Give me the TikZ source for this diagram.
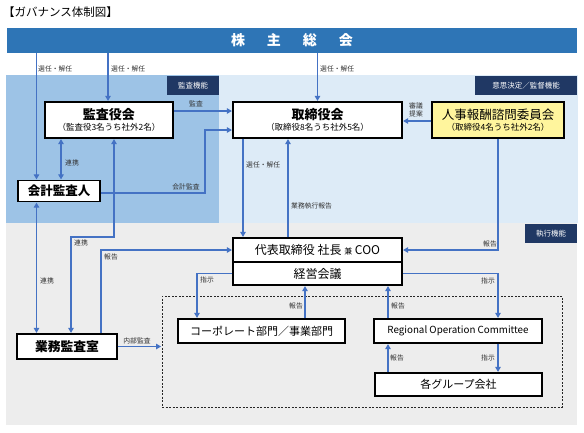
\documentclass[tikz,border=0pt]{standalone}
\usepackage{fontspec}
\setmainfont{Noto Sans CJK JP}
\usetikzlibrary{arrows.meta}
\definecolor{barblue}{RGB}{46,117,182}
\definecolor{lightblue}{RGB}{221,235,247}
\definecolor{auditblue}{RGB}{157,195,230}
\definecolor{graybg}{RGB}{237,237,237}
\definecolor{navy}{RGB}{32,56,100}
\definecolor{arrowblue}{RGB}{68,114,196}
\definecolor{paleyellow}{RGB}{255,245,157}
\begin{document}
\begin{tikzpicture}[x=1pt,y=-1pt,
  box/.style={draw=black, line width=1.2pt, fill=white, inner sep=0pt, align=center},
  tag/.style={fill=navy, text=white, inner sep=0pt, font=\fontsize{7.5}{8.5}\selectfont},
  lbl/.style={inner sep=0pt, text=black!80, font=\fontsize{6.8}{7.8}\selectfont},
  arr/.style={draw=arrowblue, line width=1.1pt, -{Triangle[width=5.5pt,length=5pt]}, shorten >=0.5pt},
  arrtwo/.style={draw=arrowblue, line width=1.1pt, {Triangle[width=5.5pt,length=5pt]}-{Triangle[width=5.5pt,length=5pt]}, shorten >=0.5pt, shorten <=0.5pt}
]
\useasboundingbox (0,0) rectangle (584,432);
\fill[white] (0,0) rectangle (584,432);
% regions
\fill[lightblue] (6,75) rectangle (578,223);
\fill[auditblue] (6,75) rectangle (219,223);
\fill[graybg] (6,223) rectangle (577,425);
% tags
\node[tag, minimum width=52pt, minimum height=19pt] (tagA) at (193,85.5) {監査機能};
\node[tag, minimum width=102pt, minimum height=19pt] (tagB) at (526,85.5) {意思決定／監督機能};
\node[tag, minimum width=52pt, minimum height=19pt] (tagC) at (551,233.5) {執行機能};
% title
\node[anchor=west, inner sep=0pt, font=\fontsize{11.5}{13}\selectfont] (title) at (3,12) {【ガバナンス体制図】};
% top bar
\node[fill=barblue, text=white, minimum width=570pt, minimum height=25pt, inner sep=0pt,
      font=\fontsize{14}{16}\selectfont\bfseries] (bar) at (292,40.5)
      {株\hspace{22pt}主\hspace{22pt}総\hspace{22pt}会};
% dashed group
\node[draw=black!85, line width=0.9pt, dash pattern=on 2pt off 1.5pt, minimum width=400pt, minimum height=111pt, inner sep=0pt] (grp) at (362,351.5) {};
% boxes
\node[box, minimum width=128pt, minimum height=36pt] (kansayaku) at (109,120)
  {{\fontsize{13}{14}\selectfont\bfseries 監査役会}\\[-1pt]{\fontsize{8.5}{9.5}\selectfont （監査役3名うち社外2名）}};
\node[box, minimum width=169pt, minimum height=36pt] (torishimari) at (317.5,120)
  {{\fontsize{13}{14}\selectfont\bfseries 取締役会}\\[-1pt]{\fontsize{8.5}{9.5}\selectfont （取締役8名うち社外5名）}};
\node[box, fill=paleyellow, minimum width=132pt, minimum height=36pt] (jinji) at (498,120)
  {{\fontsize{12.5}{14}\selectfont 人事報酬諮問委員会}\\[-1pt]{\fontsize{8.5}{9.5}\selectfont （取締役4名うち社外2名）}};
\node[box, minimum width=82pt, minimum height=21pt, font=\fontsize{12.5}{14}\selectfont\bfseries] (kaikei) at (59,191) {会計監査人};
\node[box, minimum width=169pt, minimum height=24pt, font=\fontsize{12}{14}\selectfont] (ceo) at (317.5,250)
  {代表取締役 社長 {\fontsize{8}{9}\selectfont 兼} COO};
\node[box, minimum width=169pt, minimum height=23pt, font=\fontsize{12}{14}\selectfont] (keiei) at (317.5,273.5) {経営会議};
\node[box, minimum width=100pt, minimum height=25pt, font=\fontsize{12.8}{14}\selectfont\bfseries] (gyomu) at (67,346.5) {業務監査室};
\node[box, minimum width=167pt, minimum height=24pt, font=\fontsize{11}{13}\selectfont] (corp) at (261.5,331) {コーポレート部門／事業部門};
\node[box, minimum width=168pt, minimum height=24pt, font=\fontsize{9.8}{12}\selectfont] (regional) at (458,331) {Regional Operation Committee};
\node[box, minimum width=167pt, minimum height=23pt, font=\fontsize{11}{13}\selectfont] (group) at (458.5,384.5) {各グループ会社};
% helper coordinates
\coordinate (cA) at (36.5,0);
\coordinate (cB) at (108,0);
\coordinate (cD) at (61,0);
\coordinate (cE) at (114,0);
\coordinate (cF) at (71,0);
\coordinate (cG) at (101,0);
\coordinate (cH) at (205,0);
\coordinate (cI) at (243,0);
\coordinate (cJ) at (288,0);
\coordinate (cK) at (498,0);
\coordinate (cL) at (197,0);
\coordinate (cM) at (305,0);
\coordinate (cN) at (388,0);
\coordinate (y111) at (0,111);
\coordinate (y121) at (0,121);
\coordinate (y130) at (0,130);
\coordinate (y193) at (0,193);
\coordinate (y237) at (0,237);
% connectors
\draw[arr] (bar.south -| cA) -- (cA |- kaikei.north);
\node[lbl, anchor=west] (l1) at (38,69) {選任・解任};
\draw[arr] (bar.south -| cB) -- (cB |- kansayaku.north);
\node[lbl, anchor=west] (l2) at (111,69) {選任・解任};
\draw[arr] (bar.south -| torishimari.north) -- (torishimari.north);
\node[lbl, anchor=west] (l3) at (320,69) {選任・解任};
\draw[arr] (kansayaku.east |- y111) -- (torishimari.west |- y111);
\node[lbl] (l4) at (196,104) {監査};
\draw[arr] (kaikei.east |- y193) -| (cH |- y130) -- (torishimari.west |- y130);
\node[lbl] (l5) at (186,187) {会計監査};
\draw[arrtwo] (kansayaku.south -| cD) -- (cD |- kaikei.north);
\node[lbl, anchor=west] (l6) at (65,163) {連携};
\draw[arrtwo] (kansayaku.south -| cE) |- (cF |- y237) -- (cF |- gyomu.north);
\node[lbl, anchor=west] (l7) at (74,243) {連携};
\draw[arrtwo] (kaikei.south -| cA) -- (cA |- gyomu.north);
\node[lbl, anchor=west] (l8) at (40,281) {連携};
\draw[arr] (gyomu.north -| cG) |- (ceo.west);
\node[lbl, anchor=west] (l9) at (104,257) {報告};
\draw[arr] (gyomu.east) -- (grp.west |- gyomu.east);
\node[lbl] (l10) at (137,341) {内部監査};
\draw[arr] (jinji.west |- y121) -- (torishimari.east |- y121);
\node[lbl, align=center, font=\fontsize{6.8}{8}\selectfont] (l11) at (416,110) {審議\\提案};
\draw[arr] (torishimari.south -| cI) -- (cI |- ceo.north);
\node[lbl, anchor=west] (l12) at (246,165) {選任・解任};
\draw[arr] (ceo.north -| cJ) -- (cJ |- torishimari.south);
\node[lbl, anchor=west] (l13) at (291,206) {業務執行報告};
\draw[arr] (jinji.south) |- (ceo.east);
\node[lbl] (l14) at (490,244) {報告};
\draw[arr] (keiei.west) -| (cL |- corp.north);
\node[lbl, anchor=west] (l15) at (200,280) {指示};
\draw[arr] (keiei.east) -| (cK |- regional.north);
\node[lbl] (l16) at (488,281) {指示};
\draw[arr] (corp.north -| cM) -- (cM |- keiei.south);
\node[lbl] (l17) at (296,306) {報告};
\draw[arr] (regional.north -| cN) -- (cN |- keiei.south);
\node[lbl] (l18) at (398,306) {報告};
\draw[arr] (regional.south -| cK) -- (cK |- group.north);
\node[lbl] (l19) at (488,358) {指示};
\draw[arr] (group.north -| cN) -- (cN |- regional.south);
\node[lbl] (l20) at (397,358) {報告};
\end{tikzpicture}
\end{document}
